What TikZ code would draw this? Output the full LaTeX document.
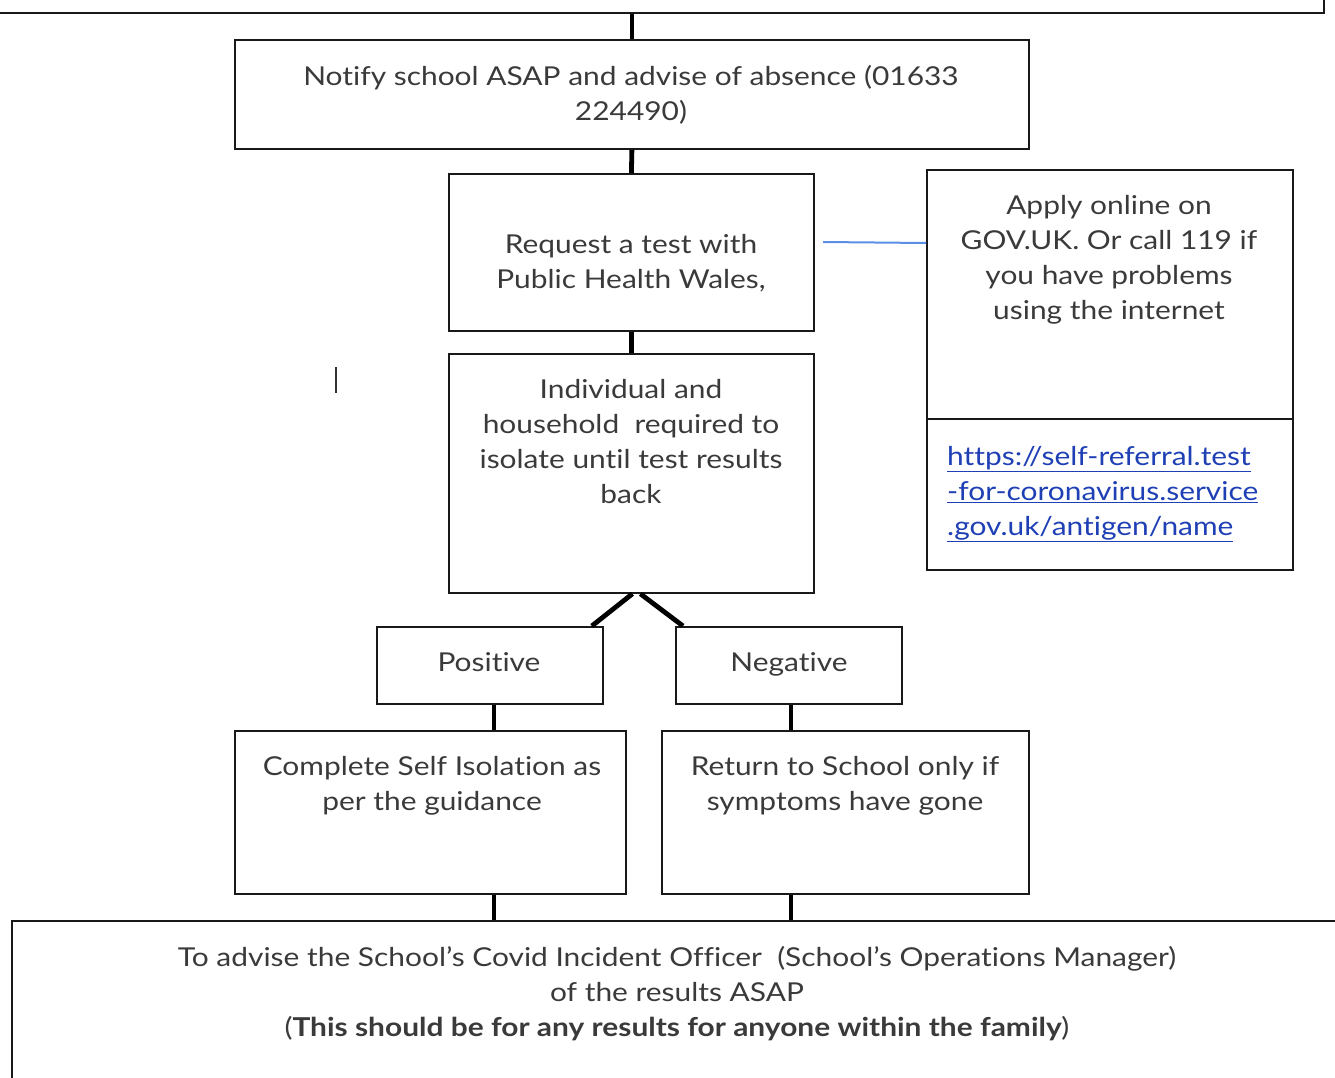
\documentclass[tikz,border=0pt]{standalone}
\usepackage{fontspec}
\setmainfont{Lato}[FakeStretch=1.15,Ligatures={NoCommon}]
\definecolor{txt}{HTML}{3A3A3A}
\definecolor{link}{HTML}{1F3FB5}
\definecolor{bluel}{HTML}{5B8EE6}
\begin{document}
\begin{tikzpicture}[x=1pt,y=-1pt,
  box/.style={draw=black!90,line width=1.8pt,inner sep=0pt,anchor=north west},
  conn/.style={draw=black,line width=4.8pt},
  lbl/.style={text=txt,align=center,font=\fontsize{26}{35}\selectfont,inner sep=0pt,anchor=north}]
\useasboundingbox (0,0) rectangle (1335,1078);
% boxes
\node[box,minimum width=1400pt,minimum height=60pt] (top) at (-77,-48) {};
\node[box,minimum width=794pt,minimum height=109pt] (notify) at (234,39) {};
\node[box,minimum width=365pt,minimum height=157pt] (req) at (448,173) {};
\node[box,minimum width=365pt,minimum height=239pt] (ind) at (448,353) {};
\node[box,minimum width=366pt,minimum height=249pt] (apply) at (926,169) {};
\node[box,minimum width=366pt,minimum height=151pt] (url) at (926,418) {};
\node[box,minimum width=226pt,minimum height=77pt] (pos) at (376,626) {};
\node[box,minimum width=226pt,minimum height=77pt] (neg) at (675,626) {};
\node[box,minimum width=391pt,minimum height=163pt] (comp) at (234,730) {};
\node[box,minimum width=367pt,minimum height=163pt] (ret) at (661,730) {};
\node[box,minimum width=1400pt,minimum height=200pt] (bot) at (11,920) {};
% texts
\node[lbl] (notifyt) at (631,65) {Notify school ASAP and advise of absence (01633\\224490)};
\node[lbl] (reqt) at (631,234) {Request a test with\\Public Health Wales,};
\node[lbl] (indt) at (631,379) {Individual and\\household\ \ required to\\isolate until test results\\back};
\node[lbl] (applyt) at (1109,195) {Apply online on\\GOV.UK. Or call 119 if\\you have problems\\using the internet};
\node[lbl,text=link,align=left,anchor=north west] (urlt) at (947,446) {\underline{https://self-referral.test}\\\underline{-for-coronavirus.service}\\\underline{.gov.uk/antigen/name}};
\node[lbl] (post) at (489,652) {Positive};
\node[lbl] (negt) at (789,652) {Negative};
\node[lbl] (compt) at (432,756) {Complete Self Isolation as\\per the guidance};
\node[lbl] (rett) at (845,756) {Return to School only if\\symptoms have gone};
\node[lbl] (bott) at (677,946) {To advise the School's Covid Incident Officer\ \ (School's Operations Manager)\\of the results ASAP\\(\textbf{This should be for any results for anyone within the family})};
% connectors
\draw[conn] (top.south -| notify.north) -- (notify.north);
\draw[conn] (notify.south) -- (req.north);
\draw[conn] (req.south) -- (ind.south |- ind.north);
\draw[conn] ([xshift=1pt]ind.south) -- ([xshift=-12pt]pos.north east);
\draw[conn] ([xshift=9pt]ind.south) -- ([xshift=8pt]neg.north west);
\draw[conn] ([xshift=4pt]pos.south) -- ([xshift=4pt]pos.south |- comp.north);
\draw[conn] ([xshift=2pt]neg.south) -- ([xshift=2pt]neg.south |- ret.north);
\draw[conn] ([xshift=4pt]pos.south |- comp.south) -- ([xshift=4pt]pos.south |- bot.north);
\draw[conn] ([xshift=2pt]neg.south |- ret.south) -- ([xshift=2pt]neg.south |- bot.north);
\coordinate (bluestart) at (823,242);
\draw[bluel,line width=2pt] (bluestart) -- (apply.west |- 0,243);
% stray mark
\draw[black!80,line width=2pt] (336,367) -- (336,393);
\end{tikzpicture}
\end{document}
